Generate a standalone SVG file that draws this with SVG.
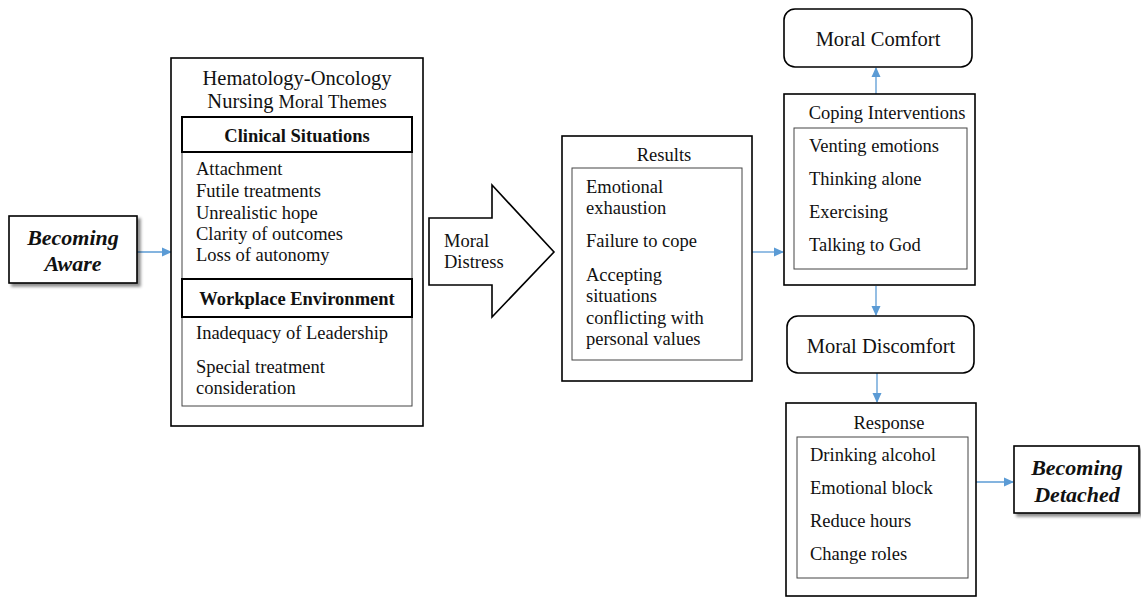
<svg xmlns="http://www.w3.org/2000/svg" width="1141" height="597" viewBox="0 0 1141 597">
<style>
text{font-family:"Liberation Serif","Times New Roman",serif;fill:#111;font-size:18.5px}
.t{font-size:20.5px}
.b{font-weight:bold}
.bi{font-weight:bold;font-style:italic;font-size:22px}
.mid{text-anchor:middle}
.outer{fill:#fff;stroke:#000;stroke-width:1.6}
.inner{fill:#fff;stroke:#444;stroke-width:1}
.hdr{fill:#fff;stroke:#000;stroke-width:2}
.conn{stroke:#5B9BD5;stroke-width:1.3;fill:none}
</style>
<defs>
<marker id="ah" markerWidth="10" markerHeight="10" refX="9" refY="5" orient="auto" markerUnits="userSpaceOnUse">
<path d="M0,0.5 L10,5 L0,9.5 Z" fill="#5B9BD5"/>
</marker>
<filter id="sh" x="-10%" y="-10%" width="130%" height="140%">
<feDropShadow dx="3" dy="3" stdDeviation="1.5" flood-color="#000" flood-opacity="0.45"/>
</filter>
</defs>
<rect width="1141" height="597" fill="#fff"/>

<g id="connectors">
<line class="conn" x1="137" y1="252" x2="171" y2="252" marker-end="url(#ah)"/>
<line class="conn" x1="752" y1="252" x2="783" y2="252" marker-end="url(#ah)"/>
<line class="conn" x1="876" y1="94" x2="876" y2="68" marker-end="url(#ah)"/>
<line class="conn" x1="876" y1="286" x2="876" y2="315" marker-end="url(#ah)"/>
<line class="conn" x1="877" y1="373" x2="877" y2="402" marker-end="url(#ah)"/>
<line class="conn" x1="976" y1="482" x2="1013" y2="482" marker-end="url(#ah)"/>
</g>

<g id="becoming-aware">
<rect x="9" y="216" width="128" height="67" fill="#fff" stroke="#000" stroke-width="1.6" filter="url(#sh)"/>
<text class="bi mid" x="73" y="245">Becoming</text>
<text class="bi mid" x="73" y="271">Aware</text>
</g>

<g id="moral-themes">
<rect class="outer" x="171" y="58" width="252" height="368"/>
<text class="t mid" x="297" y="85">Hematology-Oncology</text>
<text class="t mid" x="297" y="108">Nursing <tspan font-size="18.5">Moral Themes</tspan></text>
<rect class="inner" x="182" y="152" width="230" height="254"/>
<rect class="hdr" x="182" y="117" width="230" height="35"/>
<text class="b mid" x="297" y="142">Clinical Situations</text>
<text x="196" y="175">Attachment</text>
<text x="196" y="197">Futile treatments</text>
<text x="196" y="219">Unrealistic hope</text>
<text x="196" y="240">Clarity of outcomes</text>
<text x="196" y="261">Loss of autonomy</text>
<rect class="hdr" x="182" y="279" width="230" height="38"/>
<text class="b mid" x="297" y="305">Workplace Environment</text>
<text x="196" y="339">Inadequacy of Leadership</text>
<text x="196" y="373">Special treatment</text>
<text x="196" y="394">consideration</text>
</g>

<g id="moral-distress">
<path d="M429,218 L492,218 L492,185 L554,252 L492,317 L492,285 L429,285 Z" fill="#fff" stroke="#000" stroke-width="1.6" stroke-linejoin="miter"/>
<text x="444" y="247">Moral</text>
<text x="444" y="268">Distress</text>
</g>

<g id="results">
<rect class="outer" x="562" y="136" width="190" height="245"/>
<text class="mid" x="664" y="161">Results</text>
<rect class="inner" x="572" y="168" width="170" height="192"/>
<text x="586" y="193">Emotional</text>
<text x="586" y="214">exhaustion</text>
<text x="586" y="247">Failure to cope</text>
<text x="586" y="281">Accepting</text>
<text x="586" y="302">situations</text>
<text x="586" y="324">conflicting with</text>
<text x="586" y="345">personal values</text>
</g>

<g id="moral-comfort">
<rect class="outer" x="784" y="9" width="188" height="58" rx="11"/>
<text class="t mid" x="878" y="46">Moral Comfort</text>
</g>

<g id="coping">
<rect class="outer" x="784" y="94" width="191" height="191"/>
<text class="mid" x="887" y="119">Coping Interventions</text>
<rect class="inner" x="794" y="128" width="173" height="141"/>
<text x="809" y="152">Venting emotions</text>
<text x="809" y="185">Thinking alone</text>
<text x="809" y="218">Exercising</text>
<text x="809" y="251">Talking to God</text>
</g>

<g id="moral-discomfort">
<rect class="outer" x="787" y="316" width="187" height="57" rx="11"/>
<text class="t mid" x="881" y="353">Moral Discomfort</text>
</g>

<g id="response">
<rect class="outer" x="786" y="403" width="190" height="193"/>
<text class="mid" x="889" y="429">Response</text>
<rect class="inner" x="797" y="437" width="171" height="141"/>
<text x="810" y="461">Drinking alcohol</text>
<text x="810" y="494">Emotional block</text>
<text x="810" y="527">Reduce hours</text>
<text x="810" y="560">Change roles</text>
</g>

<g id="becoming-detached">
<rect x="1014" y="446" width="125" height="67" fill="#fff" stroke="#000" stroke-width="1.6" filter="url(#sh)"/>
<text class="bi mid" x="1077" y="475">Becoming</text>
<text class="bi mid" x="1077" y="502">Detached</text>
</g>
</svg>
